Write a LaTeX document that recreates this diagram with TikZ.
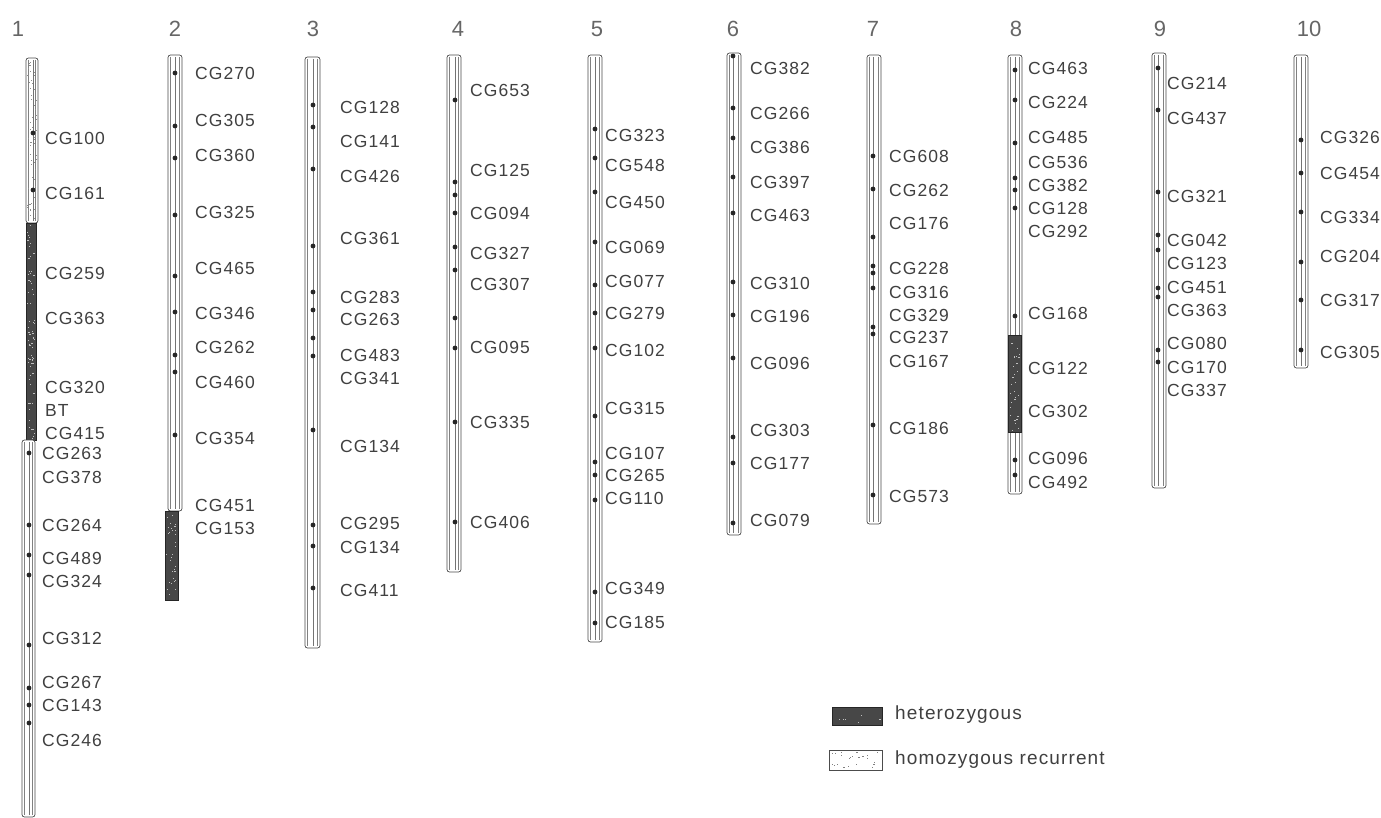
\documentclass[tikz,border=0pt]{standalone}
\usepackage{fontspec}
\setmainfont{Liberation Sans}
\newfontfamily\lblfont[LetterSpace=6]{Liberation Sans}
\newfontfamily\legfont[LetterSpace=6]{Liberation Sans}

\tikzset{
  barline/.style={draw=black!70, line width=0.7pt},
  innerline/.style={draw=black!50, line width=0.45pt},
  axisline/.style={draw=black!55, line width=0.4pt},
  het/.style={fill=black!72, draw=black!85, line width=0.6pt},
  marker/.style={fill=black!85},
  lbl/.style={anchor=west, inner sep=0pt, font=\lblfont\fontsize{17.5}{18}\selectfont, text=black!75},
  chrnum/.style={inner sep=0pt, font=\fontsize{22}{22}\selectfont, text=black!60},
  legtext/.style={anchor=west, inner sep=0pt, font=\legfont\fontsize{19}{20}\selectfont, text=black!75},
}

% chromosome bar: left x, right x, top y, bottom y
\newcommand\chrbar[4]{%
  \draw[barline, fill=white, rounded corners=2.5pt] (#1,#3) rectangle (#2,#4);
  \draw[innerline] (#1+2.5,#3+2) -- (#1+2.5,#4-2);
  \draw[innerline] (#2-2.5,#3+2) -- (#2-2.5,#4-2);
}
% centre line carrying the markers: x, top y, bottom y
\newcommand\chraxis[3]{\draw[axisline] (#1,#2+2) -- (#1,#3-2);}
% heterozygous segment
\newcommand\hetseg[4]{%
  \draw[het] (#1,#3) rectangle (#2,#4);
  \speckle{#1}{#2}{#3}{#4}{\numexpr(#4-#3)/3\relax}{black!25}%
}
% scattered specks inside a box: xl, xr, top, bottom, count, colour
\newcommand\speckle[6]{%
  \foreach \k in {1,...,\the\numexpr#5\relax}{
    \pgfmathsetmacro\sx{#1+1.2+rnd*(#2-#1-3.4)}
    \pgfmathsetmacro\sy{#3+1.2+rnd*(#4-#3-3.4)}
    \fill[#6] (\sx,\sy) rectangle ++(1.2,1);
  }%
}
% markers on a chromosome: x, list of y
\newcommand\markers[2]{\foreach \m in {#2}{\fill[marker] (#1,\m) circle[radius=2.4pt];}}

\begin{document}
\begin{tikzpicture}[x=1pt, y=-1pt]
\pgfmathsetseed{4711}
\fill[white] (0,0) rectangle (1381,818);
\useasboundingbox (0,0) rectangle (1381,818);

% chromosome numbers
\node[chrnum] (n1) at (18,29) {1};
\node[chrnum] (n2) at (175,29) {2};
\node[chrnum] (n3) at (313,29) {3};
\node[chrnum] (n4) at (458,29) {4};
\node[chrnum] (n5) at (597,29) {5};
\node[chrnum] (n6) at (733,29) {6};
\node[chrnum] (n7) at (873,29) {7};
\node[chrnum] (n8) at (1016,29) {8};
\node[chrnum] (n9) at (1160,29) {9};
\node[chrnum] (n10) at (1309,29) {10};

% ---------- chromosome 1
\chrbar{26}{38}{58}{223}
\speckle{26}{38}{58}{223}{70}{black!45}
\chraxis{33}{58}{223}
\markers{33}{133,190}
\hetseg{26}{36}{223}{440}
\chrbar{22}{35}{440}{817}
\chraxis{29}{440}{817}
\markers{29}{453,525,555,575,645,688,705,723}
\node[lbl] (c1-1) at (45,138) {CG100};
\node[lbl] (c1-2) at (45,193) {CG161};
\node[lbl] (c1-3) at (45,273) {CG259};
\node[lbl] (c1-4) at (45,318) {CG363};
\node[lbl] (c1-5) at (45,387) {CG320};
\node[lbl] (c1-6) at (45,410) {BT};
\node[lbl] (c1-7) at (45,433) {CG415};
\node[lbl] (c1-8) at (42,453) {CG263};
\node[lbl] (c1-9) at (42,477) {CG378};
\node[lbl] (c1-10) at (42,525) {CG264};
\node[lbl] (c1-11) at (42,558) {CG489};
\node[lbl] (c1-12) at (42,581) {CG324};
\node[lbl] (c1-13) at (42,638) {CG312};
\node[lbl] (c1-14) at (42,682) {CG267};
\node[lbl] (c1-15) at (42,705) {CG143};
\node[lbl] (c1-16) at (42,740) {CG246};

% ---------- chromosome 2
\chrbar{168}{182}{55}{511}
\chraxis{175}{55}{511}
\markers{175}{73,126,158,215,276,312,355,372,435}
\hetseg{165}{178}{511}{600}
\node[lbl] (c2-1) at (195,73) {CG270};
\node[lbl] (c2-2) at (195,120) {CG305};
\node[lbl] (c2-3) at (195,155) {CG360};
\node[lbl] (c2-4) at (195,212) {CG325};
\node[lbl] (c2-5) at (195,268) {CG465};
\node[lbl] (c2-6) at (195,313) {CG346};
\node[lbl] (c2-7) at (195,347) {CG262};
\node[lbl] (c2-8) at (195,382) {CG460};
\node[lbl] (c2-9) at (195,438) {CG354};
\node[lbl] (c2-10) at (195,505) {CG451};
\node[lbl] (c2-11) at (195,528) {CG153};

% ---------- chromosome 3
\chrbar{305}{320}{57}{648}
\chraxis{313}{57}{648}
\markers{313}{105,127,169,246,292,310,338,356,430,525,546,588}
\node[lbl] (c3-1) at (340,107) {CG128};
\node[lbl] (c3-2) at (340,141) {CG141};
\node[lbl] (c3-3) at (340,176) {CG426};
\node[lbl] (c3-4) at (340,238) {CG361};
\node[lbl] (c3-5) at (340,297) {CG283};
\node[lbl] (c3-6) at (340,319) {CG263};
\node[lbl] (c3-7) at (340,355) {CG483};
\node[lbl] (c3-8) at (340,378) {CG341};
\node[lbl] (c3-9) at (340,446) {CG134};
\node[lbl] (c3-10) at (340,523) {CG295};
\node[lbl] (c3-11) at (340,547) {CG134};
\node[lbl] (c3-12) at (340,590) {CG411};

% ---------- chromosome 4
\chrbar{447}{461}{55}{572}
\chraxis{455}{55}{572}
\markers{455}{100,182,195,213,247,270,318,348,422,522}
\node[lbl] (c4-1) at (470,90) {CG653};
\node[lbl] (c4-2) at (470,170) {CG125};
\node[lbl] (c4-3) at (470,213) {CG094};
\node[lbl] (c4-4) at (470,253) {CG327};
\node[lbl] (c4-5) at (470,284) {CG307};
\node[lbl] (c4-6) at (470,347) {CG095};
\node[lbl] (c4-7) at (470,422) {CG335};
\node[lbl] (c4-8) at (470,522) {CG406};

% ---------- chromosome 5
\chrbar{588}{602}{55}{642}
\chraxis{595}{55}{642}
\markers{595}{129,158,192,242,285,313,348,416,462,475,500,592,623}
\node[lbl] (c5-1) at (605,135) {CG323};
\node[lbl] (c5-2) at (605,165) {CG548};
\node[lbl] (c5-3) at (605,202) {CG450};
\node[lbl] (c5-4) at (605,247) {CG069};
\node[lbl] (c5-5) at (605,281) {CG077};
\node[lbl] (c5-6) at (605,313) {CG279};
\node[lbl] (c5-7) at (605,350) {CG102};
\node[lbl] (c5-8) at (605,408) {CG315};
\node[lbl] (c5-9) at (605,453) {CG107};
\node[lbl] (c5-10) at (605,475) {CG265};
\node[lbl] (c5-11) at (605,498) {CG110};
\node[lbl] (c5-12) at (605,588) {CG349};
\node[lbl] (c5-13) at (605,622) {CG185};

% ---------- chromosome 6
\chrbar{727}{741}{53}{535}
\chraxis{733}{53}{535}
\markers{733}{56,108,138,177,213,282,315,358,437,463,523}
\node[lbl] (c6-1) at (750,68) {CG382};
\node[lbl] (c6-2) at (750,113) {CG266};
\node[lbl] (c6-3) at (750,147) {CG386};
\node[lbl] (c6-4) at (750,182) {CG397};
\node[lbl] (c6-5) at (750,215) {CG463};
\node[lbl] (c6-6) at (750,283) {CG310};
\node[lbl] (c6-7) at (750,316) {CG196};
\node[lbl] (c6-8) at (750,363) {CG096};
\node[lbl] (c6-9) at (750,430) {CG303};
\node[lbl] (c6-10) at (750,463) {CG177};
\node[lbl] (c6-11) at (750,520) {CG079};

% ---------- chromosome 7
\chrbar{867}{881}{55}{524}
\chraxis{873}{55}{524}
\markers{873}{156,189,237,266,273,288,327,334,425,495}
\node[lbl] (c7-1) at (889,156) {CG608};
\node[lbl] (c7-2) at (889,190) {CG262};
\node[lbl] (c7-3) at (889,223) {CG176};
\node[lbl] (c7-4) at (889,268) {CG228};
\node[lbl] (c7-5) at (889,292) {CG316};
\node[lbl] (c7-6) at (889,315) {CG329};
\node[lbl] (c7-7) at (889,337) {CG237};
\node[lbl] (c7-8) at (889,361) {CG167};
\node[lbl] (c7-9) at (889,428) {CG186};
\node[lbl] (c7-10) at (889,496) {CG573};

% ---------- chromosome 8
\chrbar{1008}{1022}{55}{494}
\chraxis{1015}{55}{494}
\markers{1015}{70,100,143,178,190,208,316,460,475}
\hetseg{1008}{1021}{335}{432}
\node[lbl] (c8-1) at (1028,68) {CG463};
\node[lbl] (c8-2) at (1028,102) {CG224};
\node[lbl] (c8-3) at (1028,137) {CG485};
\node[lbl] (c8-4) at (1028,162) {CG536};
\node[lbl] (c8-5) at (1028,185) {CG382};
\node[lbl] (c8-6) at (1028,208) {CG128};
\node[lbl] (c8-7) at (1028,231) {CG292};
\node[lbl] (c8-8) at (1028,313) {CG168};
\node[lbl] (c8-9) at (1028,368) {CG122};
\node[lbl] (c8-10) at (1028,411) {CG302};
\node[lbl] (c8-11) at (1028,458) {CG096};
\node[lbl] (c8-12) at (1028,482) {CG492};

% ---------- chromosome 9
\chrbar{1152}{1166}{53}{488}
\chraxis{1158}{53}{488}
\markers{1158}{68,110,192,235,250,288,297,350,362}
\node[lbl] (c9-1) at (1167,83) {CG214};
\node[lbl] (c9-2) at (1167,118) {CG437};
\node[lbl] (c9-3) at (1167,196) {CG321};
\node[lbl] (c9-4) at (1167,240) {CG042};
\node[lbl] (c9-5) at (1167,263) {CG123};
\node[lbl] (c9-6) at (1167,287) {CG451};
\node[lbl] (c9-7) at (1167,310) {CG363};
\node[lbl] (c9-8) at (1167,343) {CG080};
\node[lbl] (c9-9) at (1167,367) {CG170};
\node[lbl] (c9-10) at (1167,390) {CG337};

% ---------- chromosome 10
\chrbar{1294}{1308}{55}{368}
\chraxis{1301}{55}{368}
\markers{1301}{140,173,212,262,300,350}
\node[lbl] (c10-1) at (1320,137) {CG326};
\node[lbl] (c10-2) at (1320,173) {CG454};
\node[lbl] (c10-3) at (1320,217) {CG334};
\node[lbl] (c10-4) at (1320,256) {CG204};
\node[lbl] (c10-5) at (1320,300) {CG317};
\node[lbl] (c10-6) at (1320,352) {CG305};

% ---------- legend
\hetseg{832}{882}{707}{725}
\node[legtext] (leg-het) at (895,715) {heterozygous};
\draw[barline, fill=white] (829,750) rectangle (882,770);
\speckle{829}{882}{750}{770}{22}{black!50}
\node[legtext] (leg-hom) at (895,760) {homozygous recurrent};
\end{tikzpicture}
\end{document}
